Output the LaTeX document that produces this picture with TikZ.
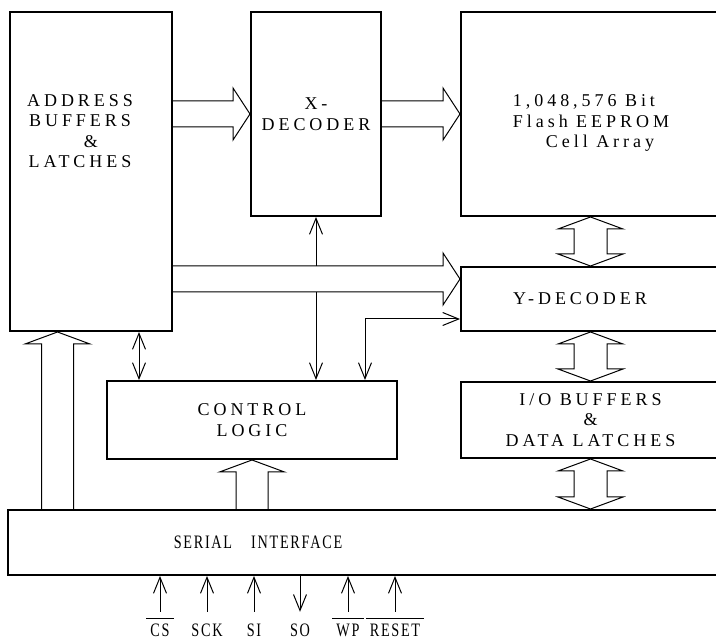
\documentclass[tikz,border=0pt]{standalone}
\usepackage{fontspec}
\setmainfont{Liberation Serif}
\newfontfamily\boxfont[LetterSpace=22]{Liberation Serif}
\newfontfamily\serfont[LetterSpace=9,FakeStretch=0.75]{Liberation Serif}
\usepackage{tikz}
\usetikzlibrary{positioning, calc, arrows.meta}

% hollow bus arrows: #1 tail, #2 tip
\newcommand{\fatright}[2]{%
  \draw[fatline] ($(#1)+(0,-13)$) -- ($(#2)+(-17,-13)$) -- ($(#2)+(-17,-26)$) -- (#2)
    -- ($(#2)+(-17,26)$) -- ($(#2)+(-17,13)$) -- ($(#1)+(0,13)$);}
\newcommand{\fatup}[2]{%
  \draw[fatline] ($(#1)+(-16,0)$) -- ($(#2)+(-16,12)$) -- ($(#2)+(-32.5,12)$) -- (#2)
    -- ($(#2)+(32.5,12)$) -- ($(#2)+(16,12)$) -- ($(#1)+(16,0)$);}
\newcommand{\fatboth}[2]{%
  \draw[fatline] (#1) -- ($(#1)+(32.5,12)$) -- ($(#1)+(16.5,12)$) -- ($(#2)+(16.5,-12)$)
    -- ($(#2)+(32.5,-12)$) -- (#2) -- ($(#2)+(-32.5,-12)$) -- ($(#2)+(-16.5,-12)$)
    -- ($(#1)+(-16.5,12)$) -- ($(#1)+(-32.5,12)$) -- cycle;}
\newcommand{\ovl}[1]{$\overline{\mbox{\rule{0pt}{16pt}\hspace{4pt}#1\hspace{4pt}}}$}

\begin{document}
\begin{tikzpicture}[x=1pt, y=-1pt,
    blk/.style={draw, line width=2pt, inner sep=0pt},
    txt/.style={font=\boxfont\fontsize{18}{20.5}\selectfont, align=center},
    stxt/.style={font=\serfont\fontsize{19}{21}\selectfont},
    fatline/.style={line width=1pt, line join=miter},
    wire/.style={line width=1pt, -{Straight Barb[length=16pt, width=13pt]}},
    bwire/.style={line width=1pt, {Straight Barb[length=16pt, width=13pt]}-{Straight Barb[length=16pt, width=13pt]}}]
  \clip (0,0) rectangle (716,639);
  % blocks
  \node[blk, minimum width=162, minimum height=319] (adr) at (91,171.5) {};
  \node[blk, minimum width=130, minimum height=204, txt] (xdec) at (316,114) {X-\\DECODER};
  \node[blk, minimum width=259, minimum height=204] (cell) at (590.5,114) {};
  \node[blk, minimum width=259, minimum height=64] (ydec) at (590.5,299) {};
  \node[blk, minimum width=259, minimum height=76, txt] (io) at (590.5,420) {I/O BUFFERS\\\&\\DATA LATCHES};
  \node[blk, minimum width=290, minimum height=78, txt] (ctrl) at (252,420) {CONTROL\\LOGIC};
  \node[blk, minimum width=800, minimum height=65, anchor=north west] (ser) at (7,509) {};
  \node[txt] (adrtxt) at (80,131) {ADDRESS\\BUFFERS\\\hspace*{22pt}\&\\LATCHES};
  \node[txt, align=left] (celltxt) at (591,123) {1,048,576 Bit\\Flash EEPROM\\\hspace*{33pt}Cell Array};
  \node[txt] (ydectxt) at (580,299) {Y-DECODER};
  \node[stxt] (sertxt) at (258,542) {SERIAL\quad INTERFACE};
  % address buses
  \fatright{adr.east |- xdec.west}{xdec.west}
  \fatright{xdec.east}{cell.west}
  \coordinate (ytip) at ($(ydec.north west)+(0,13)$);
  \fatright{adr.east |- ytip}{ytip}
  % data path
  \fatboth{cell.south}{ydec.north}
  \fatboth{ydec.south}{io.north}
  \fatboth{io.south}{io.south |- ser.north}
  % from the serial interface
  \coordinate (atip) at ($(adr.south west)+(48.5,0)$);
  \fatup{atip |- ser.north}{atip}
  \fatup{ctrl.south |- ser.north}{ctrl.south}
  % control wires
  \draw[wire] (xdec.south |- ydec.north) -- (xdec.south);
  \draw[wire] ($(xdec.south |- ytip)+(0,13)$) -- (xdec.south |- ctrl.north);
  \draw[bwire] ($(adr.south east)+(-34,0)$) -- ($(adr.south east |- ctrl.north)+(-34,0)$);
  \coordinate (ctip) at ($(ydec.south west)+(0,-13)$);
  \draw[bwire] (ctip) -| ($(ctrl.north east)+(-33,0)$);
  % pins
  \foreach \x/\nm/\lbl in {160/cs/{\ovl{CS}}, 207/sck/SCK, 254/si/SI, 300/so/SO, 348/wp/{\ovl{WP}}, 395/rst/{\ovl{RESET}}}
    \node[stxt, anchor=base, text height=23pt, text depth=0pt, inner sep=1pt] (\nm) at (\x,636) {\lbl};
  \foreach \nm in {cs,sck,si,wp,rst} \draw[wire] (\nm.north) -- (\nm.north |- ser.south);
  \draw[wire] (so.north |- ser.south) -- (so.north);
\end{tikzpicture}
\end{document}
